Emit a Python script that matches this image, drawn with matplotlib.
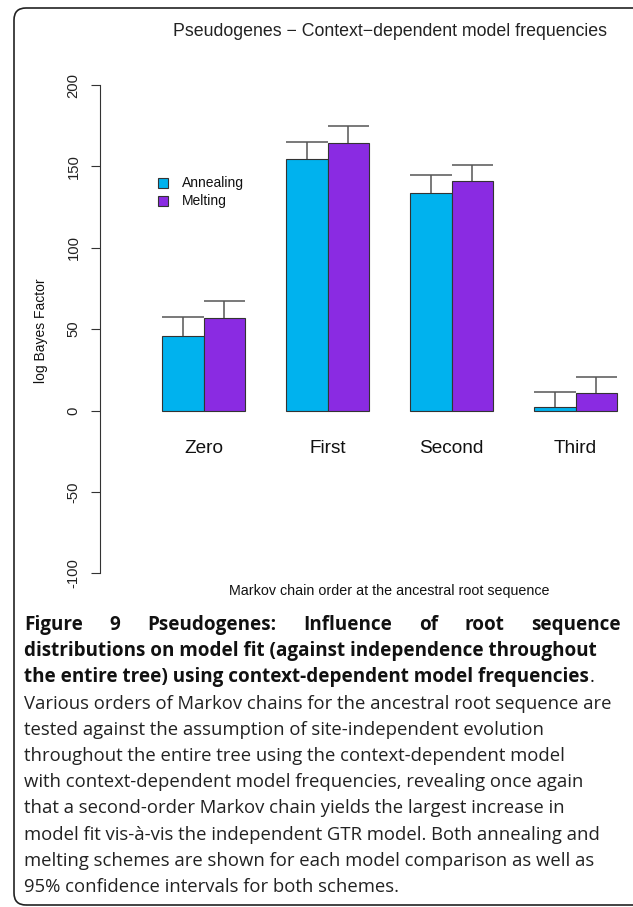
import matplotlib
matplotlib.use("Agg")
import matplotlib.pyplot as plt
from matplotlib.patches import Rectangle, FancyBboxPatch
from matplotlib.transforms import IdentityTransform
import numpy as np

W, H = 633, 907

# data
categories = ["Zero", "First", "Second", "Third"]
annealing = [45.9, 154.3, 133.4, 2.1]
melting = [56.8, 164.1, 141.2, 10.7]
annealing_upper = [57.4, 164.7, 144.5, 11.5]
melting_upper = [67.1, 174.8, 150.6, 20.6]
legend_labels = ["Annealing", "Melting"]
yticks = [-100, -50, 0, 50, 100, 150, 200]

ANNEAL_COL = "#00B2EE"
MELT_COL = "#8A2BE2"
EDGE = "#333333"
ERR = "#555555"

title = "Pseudogenes \u2212 Context\u2212dependent model frequencies"
xlab = "Markov chain order at the ancestral root sequence"
ylab = "log Bayes Factor"

cap_bold = ["Figure 9 Pseudogenes: Influence of root sequence",
            "distributions on model fit (against independence throughout",
            "the entire tree) using context-dependent model frequencies"]
cap_body = ["Various orders of Markov chains for the ancestral root sequence are",
            "tested against the assumption of site-independent evolution",
            "throughout the entire tree using the context-dependent model",
            "with context-dependent model frequencies, revealing once again",
            "that a second-order Markov chain yields the largest increase in",
            "model fit vis-\u00e0-vis the independent GTR model. Both annealing and",
            "melting schemes are shown for each model comparison as well as",
            "95% confidence intervals for both schemes."]

plt.rcParams['font.family'] = ['Liberation Sans', 'DejaVu Sans']


def fx(px):
    return px / W


def fy(py):
    return 1 - py / H


fig = plt.figure(figsize=(W / 100, H / 100), dpi=100)

# plot region (R style, xlim 0..13 and ylim -100..200 with 4% padding)
ax = fig.add_axes([fx(99.5), fy(592.8), 580.3 / W, 527.3 / H])
ax.set_xlim(-0.52, 13.52)
ax.set_ylim(-112, 212)
ax.patch.set_visible(False)

x_a = np.arange(len(categories)) * 3 + 1
x_m = x_a + 1
ax.bar(x_a, annealing, width=1, align='edge', color=ANNEAL_COL, edgecolor=EDGE, linewidth=0.8)
ax.bar(x_m, melting, width=1, align='edge', color=MELT_COL, edgecolor=EDGE, linewidth=0.8)

# one sided error bars, cap across the whole bar
ax.vlines(x_a + 0.5, annealing, annealing_upper, color=ERR, lw=1.1)
ax.hlines(annealing_upper, x_a, x_a + 1, color=ERR, lw=1.1)
ax.vlines(x_m + 0.5, melting, melting_upper, color=ERR, lw=1.1)
ax.hlines(melting_upper, x_m, x_m + 1, color=ERR, lw=1.1)

for xc, lab in zip(x_m, categories):
    ax.text(xc, -26, lab, ha='center', va='baseline', fontsize=13.7, color='#111111')

for s in ['top', 'right', 'bottom']:
    ax.spines[s].set_visible(False)
ax.spines['left'].set_bounds(-100, 200)
ax.spines['left'].set_color(EDGE)
ax.spines['left'].set_linewidth(0.8)
ax.set_xticks([])
ax.set_yticks(yticks)
ax.set_yticklabels([str(v) for v in yticks], rotation=90, va='center')
ax.tick_params(axis='y', length=6.2, width=0.8, pad=7.3, labelsize=10.7,
               color=EDGE, labelcolor='#222222')

# legend
for i, (lab, col) in enumerate(zip(legend_labels, [ANNEAL_COL, MELT_COL])):
    yc = 183.3 + 17.4 * i
    fig.add_artist(Rectangle((fx(158.3), fy(yc + 5)), 10 / W, 10 / H, transform=fig.transFigure,
                             facecolor=col, edgecolor=EDGE, lw=0.8))
    fig.text(fx(181.7), fy(yc), lab, va='center', ha='left', fontsize=10, color='#111111')

fig.text(fx(389.6), fy(36), title, ha='center', va='baseline', fontsize=12.8, color='#222222')
fig.text(fx(389), fy(595), xlab, ha='center', va='baseline', fontsize=10.3, color='#111111')
fig.text(fx(41), fy(330.7), ylab, ha='center', va='center', rotation=90, fontsize=10, color='#111111')

# frame around figure + caption
frame = FancyBboxPatch((14, 2), 700, 897, boxstyle="round,pad=0,rounding_size=12",
                       transform=IdentityTransform(), facecolor='none', edgecolor='#222222', lw=1.2)
fig.add_artist(frame)

# caption
CAP_FONT = ['Open Sans', 'DejaVu Sans']
BOLD_SIZE = 13.6
CAP_SIZE = 13.35
left, right = 24, 621
base0, step = 630, 26.2
renderer = fig.canvas.get_renderer()

# first line is justified
words = cap_bold[0].split()
texts = [fig.text(0, fy(base0), w, fontsize=BOLD_SIZE, fontweight='bold', family=CAP_FONT,
                  va='baseline', color='#111111') for w in words]
widths = [t.get_window_extent(renderer=renderer).width for t in texts]
gap = (right - left - sum(widths)) / (len(words) - 1)
xpos = left
for t, wd in zip(texts, widths):
    t.set_x(fx(xpos))
    xpos += wd + gap

for i, line in enumerate(cap_bold[1:], start=1):
    t = fig.text(fx(left), fy(base0 + step * i), line, fontsize=BOLD_SIZE, fontweight='bold',
                 family=CAP_FONT, va='baseline', color='#111111')
# trailing regular full stop after the bold title
wd = t.get_window_extent(renderer=renderer).width
fig.text(fx(left + wd + 1), fy(base0 + step * 2), ".", fontsize=CAP_SIZE, family=CAP_FONT,
         va='baseline', color='#111111')

for i, line in enumerate(cap_body, start=3):
    fig.text(fx(left), fy(base0 + step * i), line, fontsize=CAP_SIZE, family=CAP_FONT,
             va='baseline', color='#222222')

fig.savefig("out.png", dpi=100)
